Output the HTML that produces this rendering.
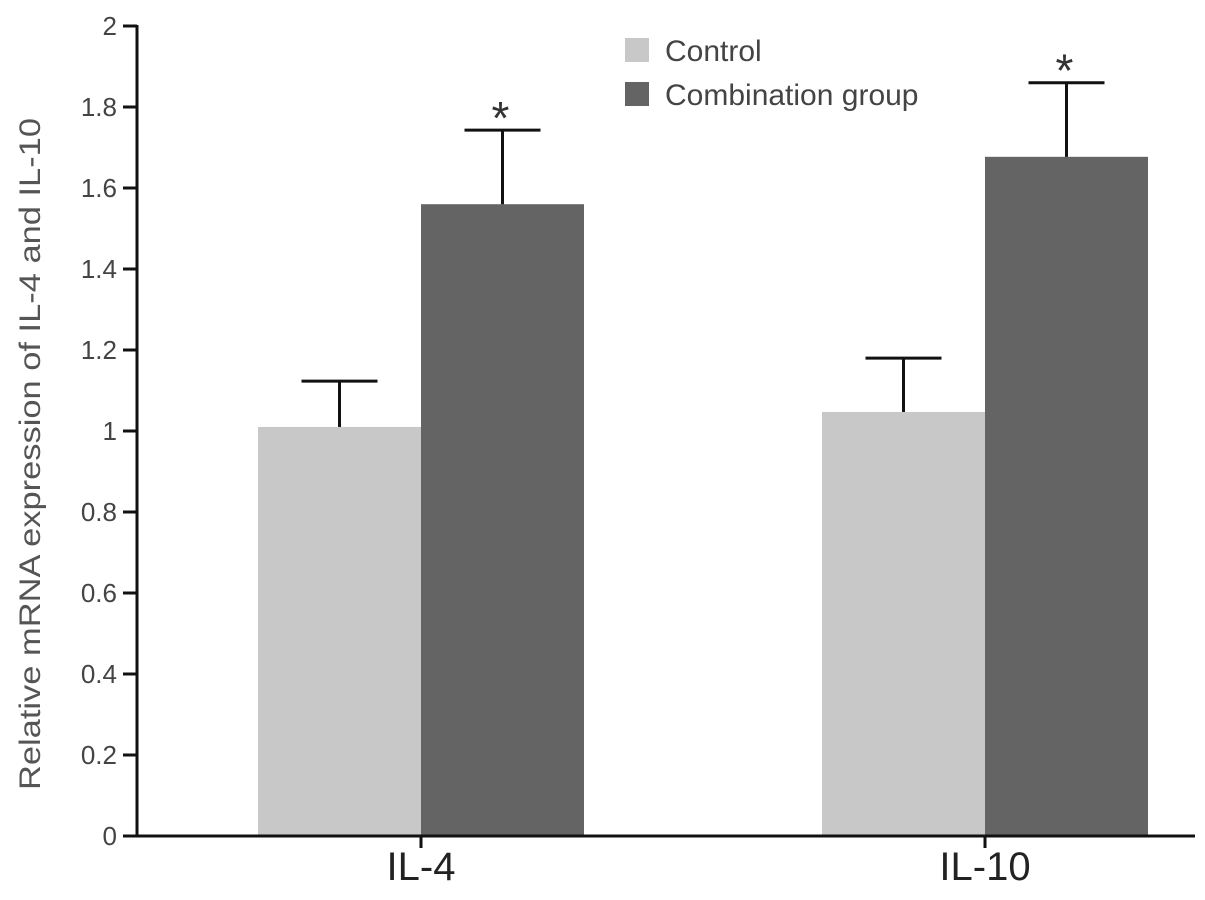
<!DOCTYPE html>
<html><head><meta charset="utf-8"><style>
html,body{margin:0;padding:0;background:#fff;}
svg{display:block;font-family:"Liberation Sans",Arial,sans-serif;}
</style></head><body>
<svg id="chart" width="1205" height="900"></svg>
<script>
const categories=["IL-4","IL-10"];
const seriesNames=["Control","Combination group"];
const controlValues=[1.01,1.047];
const controlErrors=[0.113,0.133];
const comboValues=[1.56,1.677];
const comboErrors=[0.183,0.183];
const significant=[true,true];
const yTicks=[0,0.2,0.4,0.6,0.8,1,1.2,1.4,1.6,1.8,2];
const yTickLabels=["0","0.2","0.4","0.6","0.8","1","1.2","1.4","1.6","1.8","2"];

const NS="http://www.w3.org/2000/svg";
const svg=document.getElementById('chart');
const x0=137,x1=1195,yBase=836,yTop=26;
const y=v=>yBase-(v/2)*(yBase-yTop);
const catX=i=>421+i*564;
const barW=163,capHalf=38;
const colors=["#c8c8c8","#646464"];
function el(tag,attrs,text){const e=document.createElementNS(NS,tag);for(const k in attrs)e.setAttribute(k,attrs[k]);if(text!==undefined)e.textContent=text;svg.appendChild(e);return e;}

const seriesVals=[controlValues,comboValues],seriesErr=[controlErrors,comboErrors];
categories.forEach((c,i)=>{
  for(let s=0;s<2;s++){
    const v=seriesVals[s][i],e=seriesErr[s][i];
    const left=s===0?catX(i)-barW:catX(i);
    const cx=left+barW/2;
    const b=el('rect',{x:left,y:y(v),width:barW,height:yBase-y(v),fill:colors[s]});
    
    
    const l=el('line',{x1:cx,x2:cx,y1:y(v),y2:y(v+e),stroke:'#111','stroke-width':3});
    
    
    const cap=el('line',{x1:cx-capHalf,x2:cx+capHalf,y1:y(v+e),y2:y(v+e),stroke:'#111','stroke-width':3});
    
    
    if(s===1&&significant[i]){
      const t=el('text',{x:cx-2,y:y(v+e)+4,'text-anchor':'middle','font-size':46,fill:'#333'},'*');
      
      
    }
  }
});

const ya=el('line',{x1:x0,x2:x0,y1:yTop-1,y2:yBase+1.5,stroke:'#111','stroke-width':3});


const xa=el('line',{x1:x0-1.5,x2:x1,y1:yBase,y2:yBase,stroke:'#111','stroke-width':3});


yTicks.forEach((t,i)=>{
  const tk=el('line',{x1:x0-14,x2:x0,y1:y(t),y2:y(t),stroke:'#111','stroke-width':3});
  
  
  const lb=el('text',{x:x0-20,y:y(t)+9,'text-anchor':'end','font-size':26,fill:'#444'},yTickLabels[i]);
  
  
});
categories.forEach((c,i)=>{
  const tk=el('line',{x1:catX(i),x2:catX(i),y1:yBase,y2:yBase+12,stroke:'#111','stroke-width':3});
  
  
  const lb=el('text',{x:catX(i),y:880,'text-anchor':'middle','font-size':40,fill:'#222'},c);
  
  
});
const yt=el('text',{x:0,y:0,transform:'translate(40,454) rotate(-90)','text-anchor':'middle','font-size':30,fill:'#555',textLength:672,lengthAdjust:'spacingAndGlyphs'},'Relative mRNA expression of IL-4 and IL-10');



seriesNames.forEach((n,s)=>{
  const yy=38+s*44;
  const sq=el('rect',{x:625,y:yy,width:24,height:24,fill:colors[s]});
  
  
  const tx=el('text',{x:665,y:yy+23,'font-size':30,fill:'#444'},n);
  
  
});
</script>
</body></html>
